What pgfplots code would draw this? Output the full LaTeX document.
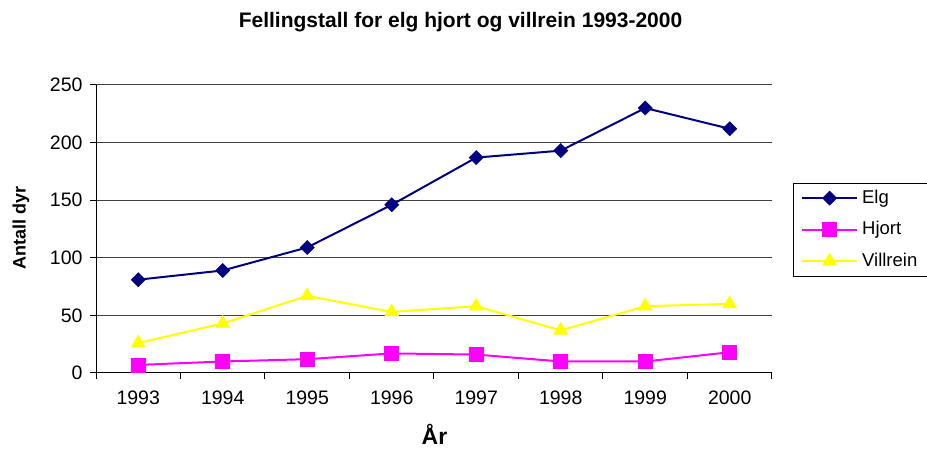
\documentclass[border=0pt]{standalone}
\usepackage{fontspec}
\setmainfont{Liberation Sans}
\usepackage{pgfplots}
\pgfplotsset{compat=1.18}
\definecolor{elgc}{RGB}{0,0,128}
\definecolor{hjortc}{RGB}{255,0,255}
\definecolor{villc}{RGB}{255,255,0}
\begin{document}
\begin{tikzpicture}[x=1pt,y=1pt]
\useasboundingbox (0,0) rectangle (927,450);
\begin{axis}[
  at={(96pt,77pt)}, anchor=south west,
  scale only axis, width=676pt, height=288pt,
  xmin=-0.5, xmax=7.5, ymin=0, ymax=250,
  axis x line*=bottom, axis y line*=left,
  axis line style={line width=1pt, black, -},
  tick align=outside,
  major tick length=6pt,
  tick style={line width=1pt, black},
  xtick={-0.5,0.5,...,7.5}, xticklabels={},
  extra x ticks={0,1,2,3,4,5,6,7},
  extra x tick labels={1993,1994,1995,1996,1997,1998,1999,2000},
  extra x tick style={major tick length=0pt, grid=none},
  ytick={0,50,...,250},
  ymajorgrids,
  major grid style={line width=1pt, black!75},
  /pgf/number format/assume math mode=true,
  tick label style={font=\fontsize{19.5}{22}\selectfont},
  xticklabel style={yshift=-14pt},
  yticklabel style={xshift=-4pt},
  legend style={at={(axis description cs:1.031,0.66)}, anchor=north west,
    draw=black, fill=white,
    font=\fontsize{18.5}{22}\selectfont,
    nodes={inner sep=0pt, text height=14pt, text depth=4pt},
    column sep=4pt, row sep=13.5pt, inner xsep=8pt, inner ysep=6pt},
  legend cell align=left,
  legend image code/.code={\draw[mark repeat=2,mark phase=2,#1] plot coordinates {(0pt,0pt) (27.5pt,0pt) (55pt,0pt)};},
]
\addplot[color=elgc, line width=2pt, mark=square*, mark size=5pt,
  mark options={rotate=45, line width=0.5pt, fill=elgc}]
  coordinates {(0,81) (1,89) (2,109) (3,146) (4,187) (5,193) (6,230) (7,212)};
\addlegendentry{\makebox[75pt][l]{Elg}}
\addplot[color=hjortc, line width=2pt, mark=square*, mark size=7pt,
  mark options={line width=0.5pt, fill=hjortc}]
  coordinates {(0,7) (1,10) (2,12) (3,17) (4,16) (5,10) (6,10) (7,18)};
\addlegendentry{\makebox[75pt][l]{Hjort}}
\addplot[color=villc, line width=2pt, mark=triangle*, mark size=8pt,
  mark options={line width=0.5pt, fill=villc}]
  coordinates {(0,26) (1,43) (2,67) (3,53) (4,58) (5,37) (6,58) (7,60)};
\addlegendentry{\makebox[75pt][l]{Villrein}}
\end{axis}
\node[font=\bfseries\fontsize{21}{24}\selectfont, anchor=base] at (460.5,422) {Fellingstall for elg hjort og villrein 1993-2000};
\node[font=\bfseries\fontsize{18}{21}\selectfont, rotate=90] at (21,222.5) {Antall dyr};
\node[font=\bfseries\fontsize{23}{26}\selectfont, anchor=base, inner sep=0pt] at (434.5,5) {År};
\end{tikzpicture}
\end{document}
